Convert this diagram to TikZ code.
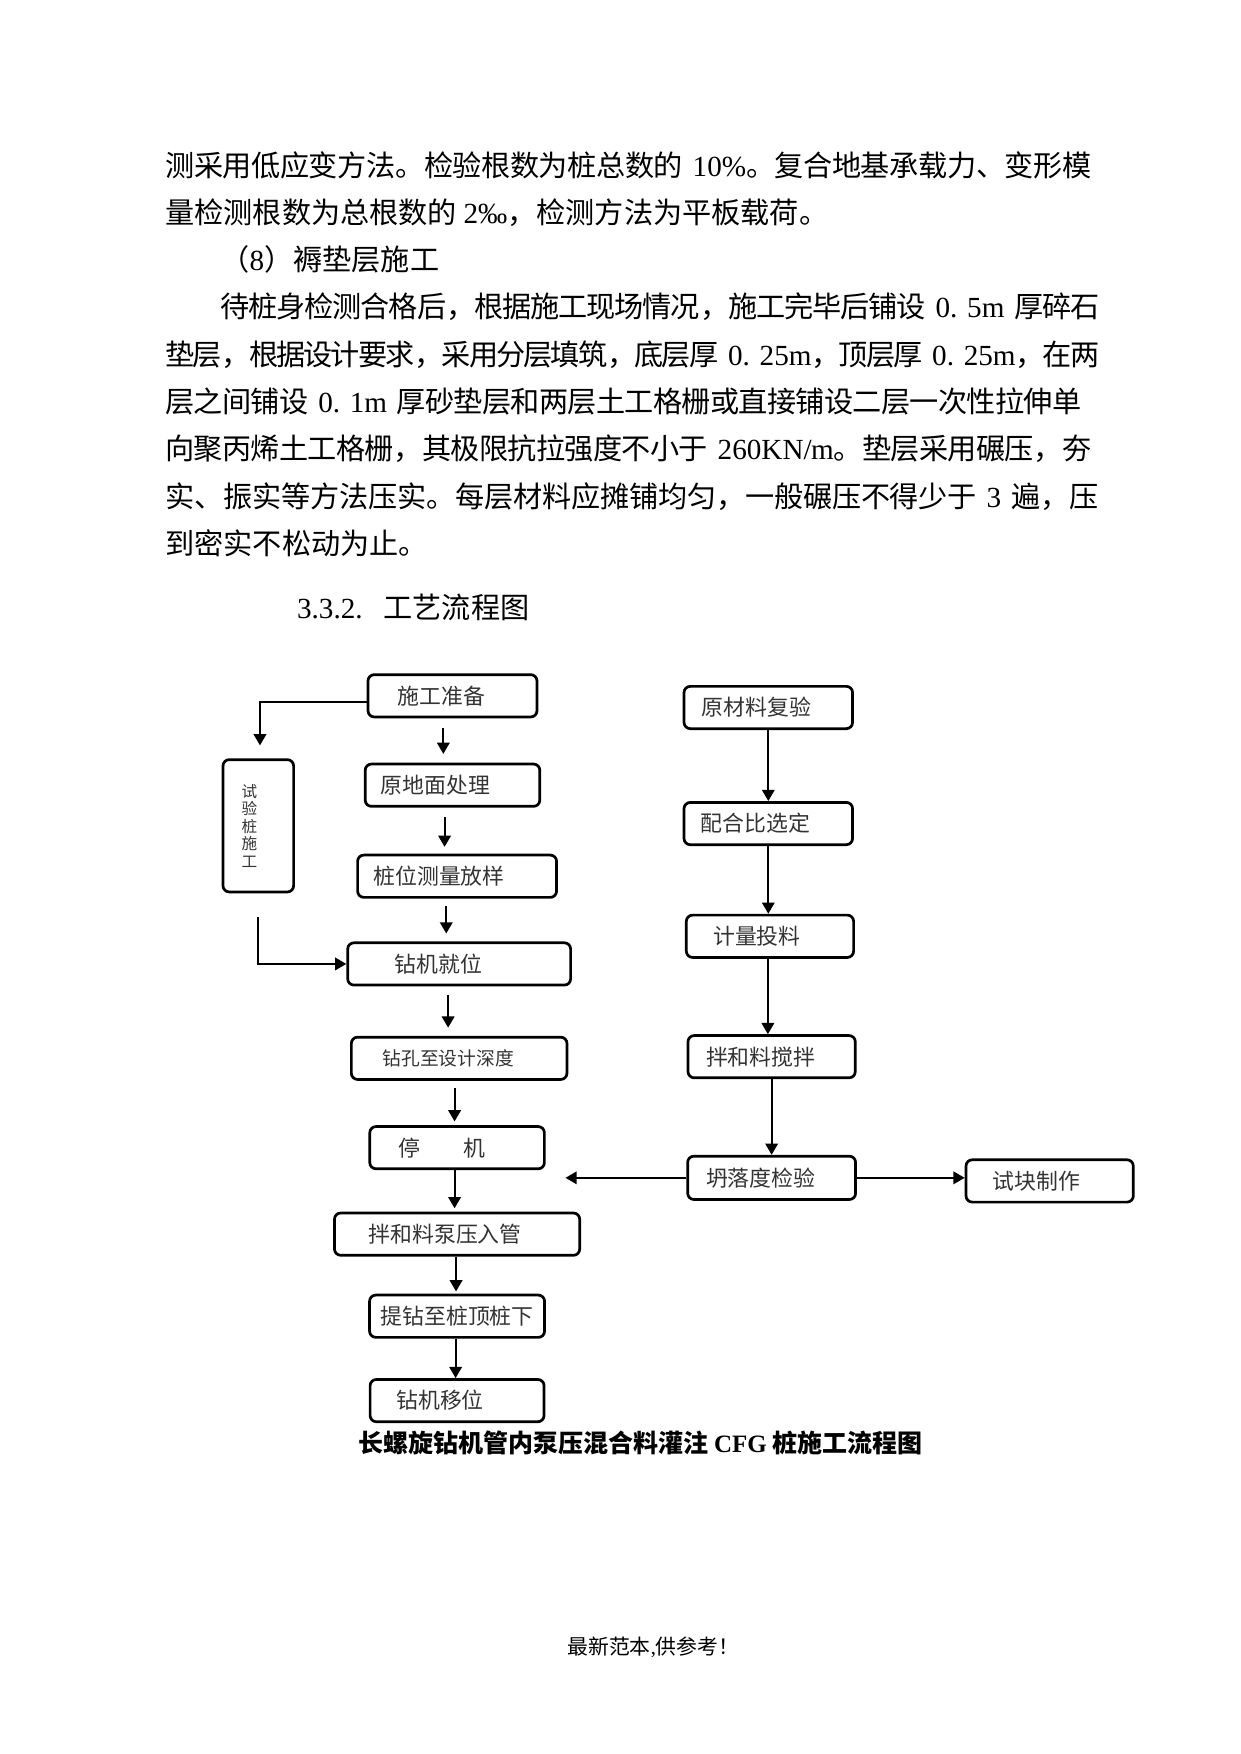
\documentclass[tikz,border=0pt]{standalone}
\usepackage{fontspec}
\setmainfont{Noto Sans CJK SC}
\newfontfamily\lat{Liberation Serif}
\usetikzlibrary{positioning}
\usetikzlibrary{arrows.meta}
\XeTeXlinebreaklocale "zh"
\XeTeXlinebreakskip=0pt plus 8pt minus 2pt
\XeTeXlinebreakpenalty=10000
\newcommand\jl[1]{\parindent=0pt\leftskip=0pt\rightskip=0pt\parfillskip=0pt\tolerance=9999\noindent #1\par}
\tikzstyle{stepbox} = [draw=black,line width=1.3pt,rounded corners=3pt,minimum height=20.3pt,inner sep=0pt,text=black!80,font=\fontsize{10.5pt}{12pt}\selectfont]
\tikzstyle{txtline} = [anchor=base west,inner sep=0pt,font=\fontsize{14pt}{17pt}\selectfont]
\tikzset{jline/.style={txtline,text width=#1}}
\tikzset{>={Triangle[length=5.4pt,width=6pt]}}
\tikzset{arr/.style={->,line width=1pt}}

\begin{document}
\begin{tikzpicture}[x=0.48pt,y=-0.48pt]
  \useasboundingbox (0,0) rectangle (1241,1754);

  \node [jline=444.5pt] (l1) at (165,176) {\jl{测采用低应变方法。检验根数为桩总数的~{\lat 10\%}。复合地基承载力、变形模}};
  \node [txtline] (l2) at (165,223.3) {量检测根数为总根数的 {\lat 2‰}，检测方法为平板载荷。};
  \node [txtline] (l3) at (220,270.6) {（{\lat 8}）褥垫层施工};
  \node [jline=422pt] (l4) at (220,317.9) {\jl{待桩身检测合格后，根据施工现场情况，施工完毕后铺设~{\lat 0.~5m}~厚碎石}};
  \node [jline=448.3pt] (l5) at (165,365.2) {\jl{垫层，根据设计要求，采用分层填筑，底层厚~{\lat 0.~25m}，顶层厚~{\lat 0.~25m}，在两}};
  \node [jline=439.7pt] (l6) at (165,412.5) {\jl{层之间铺设~{\lat 0.~1m}~厚砂垫层和两层土工格栅或直接铺设二层一次性拉伸单}};
  \node [jline=444.5pt] (l7) at (165,459.8) {\jl{向聚丙烯土工格栅，其极限抗拉强度不小于~{\lat 260KN/m}。垫层采用碾压，夯}};
  \node [jline=447.8pt] (l8) at (165,507.1) {\jl{实、振实等方法压实。每层材料应摊铺均匀，一般碾压不得少于~{\lat 3}~遍，压}};
  \node [txtline] (l9) at (165,554.4) {到密实不松动为止。};
  \node [txtline] (h1) at (296.7,618) {{\lat 3.3.2.}\hspace{10pt}工艺流程图};

  \node [stepbox,minimum width=81.1pt] (n1) at (452.5,695.8) {施工准备\kern10.6pt};
  \node [stepbox,minimum width=83.8pt,below=21.3pt of n1] (n2) {原地面处理\kern16.3pt};
  \node [stepbox,minimum width=95.5pt,below=22.1pt of n2,xshift=2.2pt] (n3) {桩位测量放样\kern17.3pt};
  \node [stepbox,minimum width=107pt,below=20.5pt of n3,xshift=1pt] (n4) {钻机就位\kern20pt};
  \node [stepbox,minimum width=103.5pt,below=23.7pt of n4,font=\fontsize{9pt}{11pt}\selectfont] (n5) {钻孔至设计深度\kern10.6pt};
  \node [stepbox,minimum width=83.8pt,below=21.3pt of n5,xshift=-1pt] (n6) {停　　机\kern14.4pt};
  \node [stepbox,minimum width=117.7pt,below=19.9pt of n6] (n7) {拌和料泵压入管\kern11.5pt};
  \node [stepbox,minimum width=84pt,below=17.8pt of n7] (n8) {提钻至桩顶桩下};
  \node [stepbox,minimum width=83.5pt,below=18.9pt of n8] (n9) {钻机移位\kern16.3pt};

  \node [stepbox,minimum width=33.9pt,minimum height=63.5pt] (t1) at (258.3,825.8) {\vbox{\fontsize{7.5pt}{8.4pt}\selectfont\hbox{试}\hbox{验}\hbox{桩}\hbox{施}\hbox{工}}\kern8.6pt};

  \node [stepbox,minimum width=80.9pt] (r1) at (768.3,707.5) {原材料复验\kern11.5pt};
  \node [stepbox,minimum width=80.9pt,below=34.1pt of r1] (r2) {配合比选定\kern12.5pt};
  \node [stepbox,minimum width=80.3pt,below=32.5pt of r2,xshift=0.8pt] (r3) {计量投料\kern12.5pt};
  \node [stepbox,minimum width=80.3pt,below=36.2pt of r3,xshift=0.8pt] (r4) {拌和料搅拌\kern10.5pt};
  \node [stepbox,minimum width=80.6pt,minimum height=20.8pt,below=36.3pt of r4] (r5) {坍落度检验\kern10.5pt};
  \node [stepbox,minimum width=80.3pt,right=51.7pt of r5,yshift=-1.5pt] (r6) {试块制作\kern12.5pt};
  \coordinate [left=58pt of r5.west] (c1);

	\draw [arr,shorten <=4.8pt,shorten >=4.2pt] ([xshift=-4.4pt]n1.south) -- ([xshift=-4.4pt]n1.south |- n2.north);
	\draw [arr,shorten <=4.6pt,shorten >=3.3pt] ([xshift=-3.8pt]n2.south) -- ([xshift=-3.8pt]n2.south |- n3.north);
	\draw [arr,shorten <=3.5pt,shorten >=3.8pt] ([xshift=-5.2pt]n3.south) -- ([xshift=-5.2pt]n3.south |- n4.north);
	\draw [arr,shorten <=3.9pt,shorten >=3.9pt] ([xshift=-5.3pt]n4.south) -- ([xshift=-5.3pt]n4.south |- n5.north);
	\draw [arr,shorten <=3.5pt,shorten >=1.8pt] ([xshift=-2.2pt]n5.south) -- ([xshift=-2.2pt]n5.south |- n6.north);
	\draw [arr,shorten >=1.6pt] ([xshift=-1.2pt]n6.south) -- ([xshift=-1.2pt]n6.south |- n7.north);
	\draw [arr,shorten >=1.1pt] ([xshift=-0.5pt]n7.south) -- ([xshift=-0.5pt]n7.south |- n8.north);
	\draw [arr] ([xshift=-0.7pt]n8.south) -- ([xshift=-0.7pt]n8.south |- n9.north);

	\draw [arr] ([yshift=-2.8pt]n1.west) -| ([xshift=0.8pt,yshift=6.2pt]t1.north);
	\draw [arr] ([yshift=-11.5pt]t1.south) |- (n4.west);

	\draw [arr] (r1.south) -- (r1.south |- r2.north);
	\draw [arr] (r2.south) -- (r2.south |- r3.north);
	\draw [arr] ([xshift=-1pt]r3.south) -- ([xshift=-1pt]r3.south |- r4.north);
	\draw [arr] (r4.south) -- (r4.south |- r5.north);
	\draw [arr] (r5.west) -- (c1);
	\draw [arr] (r5.east) -- (r5.east -| r6.west);

  \node [anchor=base west,inner sep=0pt,font=\fontsize{12pt}{14pt}\selectfont\bfseries] (cap) at (358,1452) {长螺旋钻机管内泵压混合料灌注 {\lat CFG} 桩施工流程图};
  \node [anchor=base west,inner sep=0pt,font=\fontsize{10pt}{12pt}\selectfont] (foot) at (567,1654.6) {最新范本{\lat ,}供参考！};
\end{tikzpicture}
\end{document}
